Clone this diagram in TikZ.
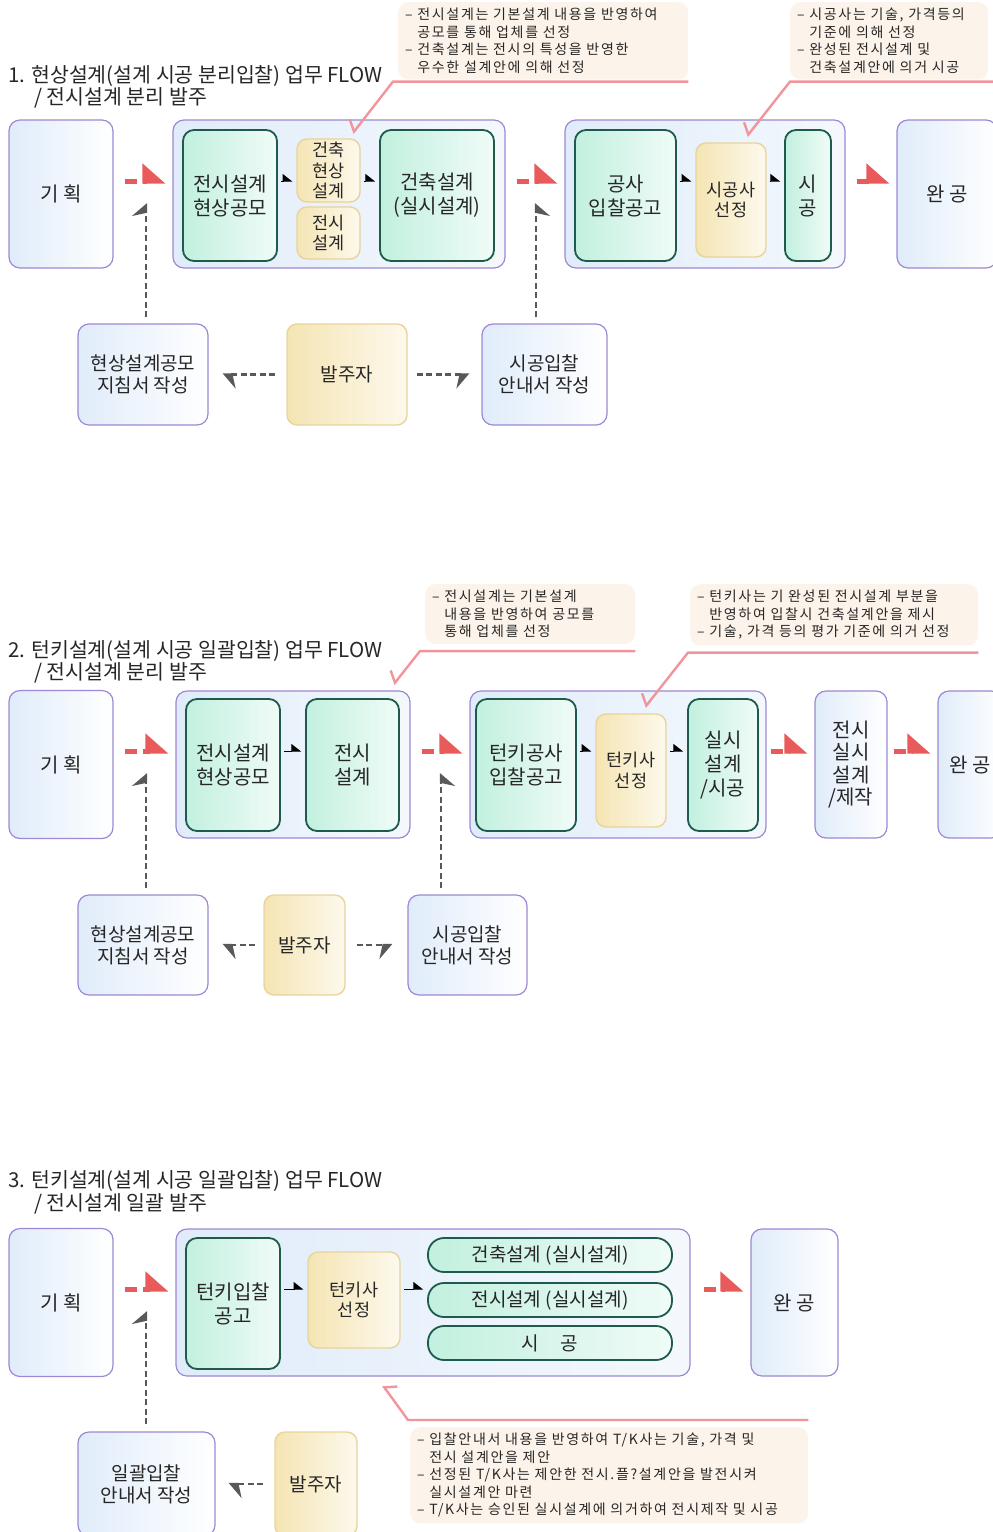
\documentclass[tikz,border=0pt]{standalone}
\usepackage{fontspec}
\setmainfont{Noto Sans CJK KR}
\newfontfamily\notefont[LetterSpace=12]{Noto Sans CJK KR}
\usetikzlibrary{arrows.meta}
\definecolor{boxpurple}{HTML}{9C88D4}
\definecolor{skyfill}{HTML}{E0ECFA}
\definecolor{tealline}{HTML}{1E5B4C}
\definecolor{mintfill}{HTML}{C2F0DF}
\definecolor{goldline}{HTML}{E8D49A}
\definecolor{goldfill}{HTML}{F5E5B4}
\definecolor{notefill}{HTML}{FCF4EA}
\definecolor{arrowred}{HTML}{E95A5A}
\definecolor{linkpink}{HTML}{F2959B}
\begin{document}
\begin{tikzpicture}[x=1pt, y=-1pt,
  every node/.style={font=\fontsize{20}{24}\selectfont, text=black!85, align=center},
  dims/.style 2 args={minimum width=#1pt, minimum height=#2pt},
  skybox/.style={draw=boxpurple, line width=1.2pt, rounded corners=11pt, left color=skyfill, right color=white, inner sep=0pt},
  groupbox/.style={draw=boxpurple, line width=1.2pt, rounded corners=11pt, left color=skyfill, right color=skyfill!35, inner sep=0pt},
  tealbox/.style={draw=tealline, line width=1.8pt, rounded corners=11pt, left color=mintfill, right color=mintfill!25, inner sep=0pt},
  goldbox/.style={draw=goldline, line width=1.4pt, rounded corners=10pt, left color=goldfill, right color=goldfill!25, inner sep=0pt, font=\fontsize{17.5}{20.5}\selectfont},
  lowbox/.style={font=\fontsize{19}{22}\selectfont},
  notebox/.style={fill=notefill, rounded corners=10pt, align=left, anchor=north west, font=\notefont\fontsize{14}{17.5}\selectfont, inner xsep=7pt, inner ysep=6pt},
  title/.style={anchor=base west, inner sep=0pt, font=\fontsize{20.5}{22}\selectfont},
  redarr/.style={draw=arrowred, line width=5pt, dash pattern=on 12pt off 6pt, -{Triangle[left, length=20pt, width=34pt]}, shorten <=11pt, shorten >=7pt},
  minarr/.style={line width=1pt, -{Triangle[left, length=9pt, width=14pt]}, shorten <=3pt, shorten >=4pt},
  grayarr/.style={draw=black!65, line width=2.8pt, dash pattern=on 6pt off 3.5pt},
  graytip/.style={-{Stealth[#1, length=12pt, width=28pt, inset=3pt]}},
  pinkarr/.style={draw=linkpink, line width=2.4pt, -{Straight Barb[right, length=7pt, width=22pt]}}
]
\useasboundingbox (0,0) rectangle (993,1532);
\coordinate (row1) at (0,181);
\coordinate (row2) at (0,751);
\coordinate (row3) at (0,1289);

\foreach \n/\y in {1/194, 2/764.5, 3/1302.5}
  \node[skybox, dims={104}{148}] (plan\n) at (61,\y) {기 획};

\node[title] (title1a) at (8,82) {1. 현상설계(설계 시공 분리입찰) 업무 FLOW};
\node[title] (title1b) at (34,104) {/ 전시설계 분리 발주};
\node[groupbox, dims={332}{148}] (grp1a) at (339,194) {};
\node[tealbox, dims={94}{131}] (contest1) at (230,195.5) {전시설계\\현상공모};
\node[goldbox, dims={63}{63}] (archcomp) at (328.5,170.5) {건축\\현상\\설계};
\node[goldbox, dims={63}{52}] (exhibit1) at (328.5,233) {전시\\설계};
\node[tealbox, dims={114}{131}] (archdes1) at (437,195.5) {건축설계\\(실시설계)};
\node[groupbox, dims={280}{148}] (grp1b) at (705,194) {};
\node[tealbox, dims={101}{131}] (bid1) at (625.5,195.5) {공사\\입찰공고};
\node[goldbox, dims={70}{114}] (select1) at (731,200) {시공사\\선정};
\node[tealbox, dims={46}{131}] (build1) at (808,195.5) {시\\공};
\node[skybox, dims={100}{148}] (done1) at (947,194) {완 공};
\node[skybox, lowbox, dims={130}{101}] (guide1) at (143,374.5) {현상설계공모\\지침서 작성};
\node[goldbox, lowbox, dims={120}{101}] (client1) at (347,374.5) {발주자};
\node[skybox, lowbox, dims={125}{101}] (notice1) at (544.5,374.5) {시공입찰\\안내서 작성};
\node[notebox, text width=276pt] (noteA) at (398,2) {– 전시설계는 기본설계 내용을 반영하여\\\phantom{– }공모를 통해 업체를 선정\\– 건축설계는 전시의 특성을 반영한\\\phantom{– }우수한 설계안에 의해 선정};
\node[notebox, text width=184pt] (noteB) at (790,2) {– 시공사는 기술, 가격등의\\\phantom{– }기준에 의해 선정\\– 완성된 전시설계 및\\\phantom{– }건축설계안에 의거 시공};

\draw[redarr] (plan1.east |- row1) -- (grp1a.west |- row1);
\draw[redarr] (grp1a.east |- row1) -- (grp1b.west |- row1);
\draw[redarr] (grp1b.east |- row1) -- (done1.west |- row1);
\draw[minarr] (contest1.east |- row1) -- (archcomp.west |- row1);
\draw[minarr] (archcomp.east |- row1) -- (archdes1.west |- row1);
\draw[minarr] (bid1.east |- row1) -- (select1.west |- row1);
\draw[minarr] (select1.east |- row1) -- (build1.west |- row1);
\coordinate (up1a) at (146,203);
\coordinate (up1b) at (536,203);
\draw[grayarr, graytip=left, shorten <=6pt] (guide1.north -| up1a) -- (up1a);
\draw[grayarr, graytip=right, shorten <=6pt] (notice1.north -| up1b) -- (up1b);
\draw[grayarr, graytip=left, shorten <=11pt, shorten >=14pt] (client1) -- (guide1);
\draw[grayarr, graytip=right, shorten <=9pt, shorten >=12pt] (client1) -- (notice1);
\draw[pinkarr] ([yshift=-2pt]noteA.south east) -- ([xshift=-5pt, yshift=-2pt]noteA.south west) -- ([xshift=-8pt, yshift=5pt]archcomp.north east);
\draw[pinkarr] ([xshift=6pt, yshift=-2pt]noteB.south east) -- ([yshift=-2pt]noteB.south west) -- ([xshift=16pt, yshift=6pt]select1.north);

\node[title] (title2a) at (8,657) {2. 턴키설계(설계 시공 일괄입찰) 업무 FLOW};
\node[title] (title2b) at (34,679) {/ 전시설계 분리 발주};
\node[groupbox, dims={234}{147}] (grp2a) at (293,764.5) {};
\node[tealbox, dims={94}{132}] (contest2) at (233,765) {전시설계\\현상공모};
\node[tealbox, dims={93}{132}] (exhibit2) at (352.5,765) {전시\\설계};
\node[groupbox, dims={296}{147}] (grp2b) at (618,764.5) {};
\node[tealbox, dims={100}{132}] (bid2) at (526,765) {턴키공사\\입찰공고};
\node[goldbox, dims={70}{113}] (select2) at (631,770.5) {턴키사\\선정};
\node[tealbox, dims={70}{132}] (build2) at (723,765) {실시\\설계\\/시공};
\node[skybox, dims={72}{147}, font=\fontsize{20}{22.5}\selectfont] (exreal2) at (851,764.5) {전시\\실시\\설계\\/제작};
\node[skybox, dims={64}{147}] (done2) at (970,764.5) {완 공};
\node[skybox, lowbox, dims={130}{100}] (guide2) at (143,945) {현상설계공모\\지침서 작성};
\node[goldbox, lowbox, dims={81}{100}] (client2) at (304.5,945) {발주자};
\node[skybox, lowbox, dims={119}{100}] (notice2) at (467.5,945) {시공입찰\\안내서 작성};
\node[notebox, text width=196pt] (noteC) at (425,584) {– 전시설계는 기본설계\\\phantom{– }내용을 반영하여 공모를\\\phantom{– }통해 업체를 선정};
\node[notebox, text width=274pt] (noteD) at (690,584) {– 턴키사는 기 완성된 전시설계 부분을\\\phantom{– }반영하여 입찰시 건축설계안을 제시\\– 기술, 가격 등의 평가 기준에 의거 선정};

\draw[redarr] (plan2.east |- row2) -- (grp2a.west |- row2);
\draw[redarr] (grp2a.east |- row2) -- (grp2b.west |- row2);
\draw[redarr, shorten <=4pt] (grp2b.east |- row2) -- (exreal2.west |- row2);
\draw[redarr, shorten <=6pt] (exreal2.east |- row2) -- (done2.west |- row2);
\draw[minarr] (contest2.east |- row2) -- (exhibit2.west |- row2);
\draw[minarr] (bid2.east |- row2) -- (select2.west |- row2);
\draw[minarr] (select2.east |- row2) -- (build2.west |- row2);
\coordinate (up2a) at (146,773);
\coordinate (up2b) at (441,773);
\draw[grayarr, graytip=left, shorten <=6pt] (guide2.north -| up2a) -- (up2a);
\draw[grayarr, graytip=right, shorten <=6pt] (notice2.north -| up2b) -- (up2b);
\draw[grayarr, graytip=left, shorten <=8pt, shorten >=14pt] (client2) -- (guide2);
\draw[grayarr, graytip=right, shorten <=11pt, shorten >=15pt] (client2) -- (notice2);
\draw[pinkarr] ([yshift=-7pt]noteC.south east) -- ([xshift=-5pt, yshift=-7pt]noteC.south west) -- ([xshift=-17pt, yshift=6pt]grp2a.north east);
\draw[pinkarr] ([yshift=-7pt]noteD.south east) -- ([xshift=-2pt, yshift=-7pt]noteD.south west) -- ([xshift=14pt, yshift=6pt]select2.north);

\node[title] (title3a) at (8,1187) {3. 턴키설계(설계 시공 일괄입찰) 업무 FLOW};
\node[title] (title3b) at (34,1210) {/ 전시설계 일괄 발주};
\node[groupbox, dims={514}{147}] (grp3) at (433,1302.5) {};
\node[tealbox, dims={94}{131}] (tkbid3) at (233,1303.5) {턴키입찰\\공고};
\node[goldbox, dims={92}{96}] (select3) at (354,1300) {턴키사\\선정};
\node[tealbox, lowbox, dims={244}{34}, rounded corners=16pt] (archreal3) at (550,1255) {건축설계 (실시설계)};
\node[tealbox, lowbox, dims={244}{34}, rounded corners=16pt] (exreal3) at (550,1300) {전시설계 (실시설계)};
\node[tealbox, lowbox, dims={244}{34}, rounded corners=16pt] (build3) at (550,1343) {시\hspace{22pt}공};
\node[skybox, dims={87}{147}] (done3) at (794.5,1302.5) {완 공};
\node[skybox, lowbox, dims={137}{104}] (guide3) at (146.5,1484) {일괄입찰\\안내서 작성};
\node[goldbox, lowbox, dims={82}{104}] (client3) at (316,1484) {발주자};
\node[notebox, text width=384pt] (noteE) at (410,1427) {– 입찰안내서 내용을 반영하여 T/K사는 기술, 가격 및\\\phantom{– }전시 설계안을 제안\\– 선정된 T/K사는 제안한 전시.플?설계안을 발전시켜\\\phantom{– }실시설계안 마련\\– T/K사는 승인된 실시설계에 의거하여 전시제작 및 시공};

\draw[redarr] (plan3.east |- row3) -- (grp3.west |- row3);
\draw[redarr, shorten <=13pt] (grp3.east |- row3) -- (done3.west |- row3);
\draw[minarr] (tkbid3.east |- row3) -- (select3.west |- row3);
\draw[minarr] (select3.east |- row3) -- (exreal3.west |- row3);
\coordinate (up3a) at (146,1311);
\draw[grayarr, graytip=left, shorten <=7pt] (guide3.north -| up3a) -- (up3a);
\draw[grayarr, graytip=left, shorten <=11pt, shorten >=13pt] (client3) -- (guide3);
\draw[pinkarr] ([yshift=7pt]noteE.north east) -- ([xshift=-2pt, yshift=7pt]noteE.north west) -- ([xshift=-50pt, yshift=-9pt]grp3.south);
\end{tikzpicture}
\end{document}
